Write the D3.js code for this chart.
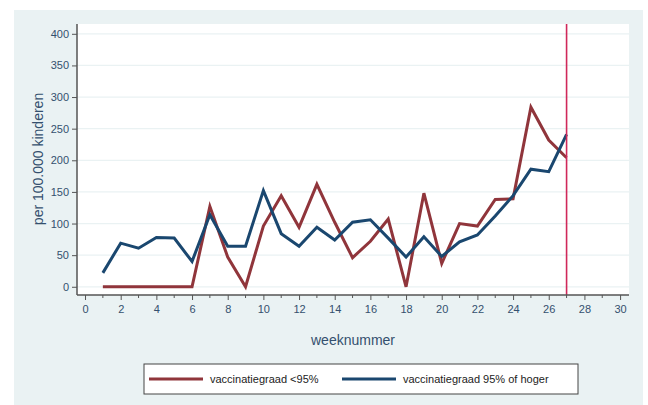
<!DOCTYPE html>
<html>
<head>
<meta charset="utf-8">
<script src="https://cdn.jsdelivr.net/npm/d3@7"></script>
<style>
  body { margin: 0; background: #fff; }
  svg { display: block; font-family: "Liberation Sans", Arial, sans-serif; }
  .axis text { fill: #34506e; font-size: 11px; }
  .axis path, .axis line { stroke: #555; }
</style>
</head>
<body>
<div id="chart"></div>
<script>
// data
var weeks = [1,2,3,4,5,6,7,8,9,10,11,12,13,14,15,16,17,18,19,20,21,22,23,24,25,26,27];
var lowVacc  = [0,0,0,0,0,0,127,47,0,96,144,94,162,102,46,72,107,0,148,37,100,96,138,139,284,232,204];
var highVacc = [22,69,61,78,77,40,114,64,64,152,84,64,94,74,102,106,77,47,79,48,71,82,112,144,186,182,241];
var seriesNames = ["vaccinatiegraad <95%", "vaccinatiegraad 95% of hoger"];
var seriesColors = ["#90353b", "#1a476f"];
var yTicks = [0,50,100,150,200,250,300,350,400];
var xMajor = [0,2,4,6,8,10,12,14,16,18,20,22,24,26,28,30];
var markerWeek = 27;

var W = 648, H = 405;
var plot = {left: 77, top: 24, right: 629, bottom: 295};

var svg = d3.select("#chart").append("svg")
  .attr("width", W).attr("height", H);

// outer graph region
svg.append("rect").attr("x", 14).attr("y", 10).attr("width", 629).attr("height", 395)
  .attr("fill", "#eaf2f3");
svg.append("rect").attr("x", plot.left).attr("y", plot.top)
  .attr("width", plot.right - plot.left).attr("height", plot.bottom - plot.top)
  .attr("fill", "#fff");

var x = d3.scaleLinear().domain([-0.45, 30.5]).range([plot.left, plot.right]);
var y = d3.scaleLinear().domain([-13, 415.5]).range([plot.bottom, plot.top]);

// gridlines
svg.append("g").selectAll("line").data(yTicks).join("line")
  .attr("x1", plot.left).attr("x2", plot.right)
  .attr("y1", function(d) { return y(d); }).attr("y2", function(d) { return y(d); })
  .attr("stroke", "#eaf2f3").attr("stroke-width", 1.2);

// lines
var line = d3.line()
  .x(function(d, i) { return x(weeks[i]); })
  .y(function(d) { return y(d); });

[lowVacc, highVacc].forEach(function(s, k) {
  svg.append("path").attr("d", line(s))
    .attr("fill", "none").attr("stroke", seriesColors[k])
    .attr("stroke-width", 3).attr("stroke-linejoin", "miter");
});

// vertical marker
svg.append("line")
  .attr("x1", x(markerWeek)).attr("x2", x(markerWeek))
  .attr("y1", plot.top).attr("y2", plot.bottom)
  .attr("stroke", "#d0285a").attr("stroke-width", 1.6);

// axes
var axisLeft = d3.axisLeft(y).tickValues(yTicks).tickSize(5).tickPadding(3);
var gy = svg.append("g").attr("class", "axis")
  .attr("transform", "translate(" + plot.left + ",0)")
  .call(axisLeft);
gy.select(".domain").attr("d", "M0," + plot.top + "V" + plot.bottom).attr("stroke-width", 1.5);

var minorX = d3.range(1, 31, 2);
svg.append("g").selectAll("line").data(minorX).join("line")
  .attr("x1", function(d) { return x(d); }).attr("x2", function(d) { return x(d); })
  .attr("y1", plot.bottom).attr("y2", plot.bottom + 3)
  .attr("stroke", "#555");

var axisBottom = d3.axisBottom(x).tickValues(xMajor).tickSize(5).tickPadding(5);
var gx = svg.append("g").attr("class", "axis")
  .attr("transform", "translate(0," + plot.bottom + ")")
  .call(axisBottom);
gx.select(".domain").attr("d", "M" + plot.left + ",0H" + plot.right).attr("stroke-width", 1.5);

// axis titles
svg.append("text").attr("x", 353).attr("y", 345)
  .attr("text-anchor", "middle").attr("fill", "#34506e").attr("font-size", 14)
  .text("weeknummer");
svg.append("text")
  .attr("transform", "translate(43,159) rotate(-90)")
  .attr("text-anchor", "middle").attr("fill", "#34506e").attr("font-size", 14)
  .text("per 100.000 kinderen");

// legend
var lg = svg.append("g");
lg.append("rect").attr("x", 144).attr("y", 364).attr("width", 434).attr("height", 30)
  .attr("fill", "#fff").attr("stroke", "#444").attr("stroke-width", 1);
var legX = [149, 342];
seriesNames.forEach(function(n, k) {
  lg.append("line").attr("x1", legX[k]).attr("x2", legX[k] + 54)
    .attr("y1", 379).attr("y2", 379)
    .attr("stroke", seriesColors[k]).attr("stroke-width", 3);
  lg.append("text").attr("x", legX[k] + 61).attr("y", 383)
    .attr("font-size", 11).attr("fill", "#222").text(n);
});
</script>
</body>
</html>
